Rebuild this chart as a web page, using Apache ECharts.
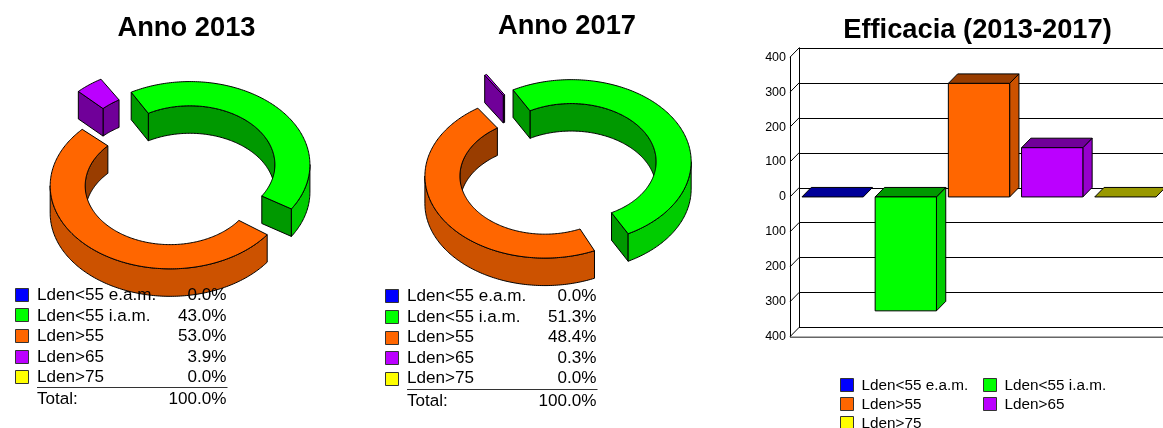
<!DOCTYPE html>
<html><head><meta charset="utf-8">
<style>html,body{margin:0;padding:0;background:#fff}#c{width:1163px;height:428px}</style>
<script src="https://cdn.jsdelivr.net/npm/echarts@6/dist/echarts.min.js"></script>
</head><body><div id="c"></div>
<script>
// ---- data ----
const categories = ['Lden<55 e.a.m.','Lden<55 i.a.m.','Lden>55','Lden>65','Lden>75'];
const shares2013 = [0.0, 43.0, 53.0, 3.9, 0.0];
const shares2017 = [0.0, 51.3, 48.4, 0.3, 0.0];
const efficacy   = [0, -326, 325, 141, 0];
const totalLabel = 'Total:';
const totalValue = '100.0%';
const yTicks = [-400,-300,-200,-100,0,100,200,300,400];
// ---- styles ----
const FONT = '"Liberation Sans", Arial, sans-serif';
const baseColors = [[0,0,255],[0,255,0],[255,102,0],[187,0,255],[255,255,0]];
const shade = (c,f)=>'rgb('+c.map(v=>Math.round(v*f)).join(',')+')';
const PIE = {R:120, r:85, depth:27.5, start:-31, trim:0.011};
const pie2013 = {cx:179.4, cy:174.6, k:0.692, explode:[14,14.5,14.5,29,14], nudge:[[0,0],[0,0],[0,0],[1.5,-1.5],[0,0]]};
const pie2017 = {cx:558, cy:168.8, k:0.683, explode:[15,15,15,26,15], nudge:[[0,0],[0,0],[0,0],[4,-2],[0,0]]};

const rad = d=>d*Math.PI/180;
function ptOn(c,radius,a,dz,k){
  return [c[0]+radius*Math.sin(rad(a)), c[1]-radius*k*Math.cos(rad(a))+(dz||0)];
}
function arcPts(c,radius,a,b,dz,k){
  const n=Math.max(2,Math.ceil(Math.abs(b-a)));
  const out=[];
  for(let i=0;i<=n;i++) out.push(ptOn(c,radius,a+(b-a)*i/n,dz,k));
  return out;
}
// parts of [a,b] where the clock angle lies in the lower half (lower=true) or upper half
function visibleRanges(a,b,lower){
  const res=[];
  for(let k=-2;k<=2;k++){
    const lo=(lower?90:-90)+360*k, hi=lo+180;
    const s=Math.max(a,lo), e=Math.min(b,hi);
    if(e>s) res.push([s,e]);
  }
  return res;
}
function poly(points,fill){
  return {type:'polygon',shape:{points},style:{fill,stroke:'#000',lineWidth:1,lineJoin:'round'}};
}
function wall(c,radius,a,b,fill,k){
  const top=arcPts(c,radius,a,b,0,k), bot=arcPts(c,radius,b,a,PIE.depth,k);
  return poly(top.concat(bot),fill);
}
function pieSeries(values,cfg){
  const total=values.reduce((s,v)=>s+v,0), k=cfg.k;
  return {
    type:'custom',coordinateSystem:'none',silent:true,
    data:values.map((v,i)=>[v,i]),
    renderItem(params,api){
      const v=api.value(0), i=api.value(1);
      if(v<=0) return null;
      let before=0; for(let j=0;j<i;j++) before+=values[j];
      const sweep=v/total*360;
      const a0=PIE.start+before/total*360, m=a0+sweep/2;
      const a=a0+sweep*PIE.trim, b=a0+sweep-sweep*PIE.trim;
      const e=cfg.explode[i];
      const c=[cfg.cx+e*Math.sin(rad(m))+cfg.nudge[i][0], cfg.cy-e*Math.cos(rad(m))+cfg.nudge[i][1]];
      const col=baseColors[i], kids=[];
      visibleRanges(a,b,false).forEach(q=>kids.push(wall(c,PIE.r,q[0],q[1],shade(col,0.6),k)));
      const radial=ang=>{
        const o=ptOn(c,PIE.R,ang,0,k), n=ptOn(c,PIE.r,ang,0,k);
        return poly([o,n,[n[0],n[1]+PIE.depth],[o[0],o[1]+PIE.depth]],shade(col,0.6));
      };
      if(-Math.sin(rad(a))>0) kids.push(radial(a));
      if(Math.sin(rad(b))>0) kids.push(radial(b));
      visibleRanges(a,b,true).forEach(q=>kids.push(wall(c,PIE.R,q[0],q[1],shade(col,0.8),k)));
      kids.push(poly(arcPts(c,PIE.R,a,b,0,k).concat(arcPts(c,PIE.r,b,a,0,k)),shade(col,1)));
      return {type:'group',children:kids};
    }
  };
}

// ---- legends (real text, read from the arrays) ----
const gfx=[];
function text(t,x,y,size,align){
  gfx.push({type:'text',x,y,z:50,style:{text:t,font:size+'px '+FONT,fill:'#000',textAlign:align||'left',textVerticalAlign:'middle'}});
}
function swatch(i,x,y,s){
  gfx.push({type:'rect',z:50,shape:{x:x+.5,y:y+.5,width:s,height:s},style:{fill:shade(baseColors[i],1),stroke:'#333',lineWidth:1}});
}
function pieLegend(values,o){
  values.forEach((v,i)=>{
    const top=o.y+i*o.step;
    swatch(i,o.sx,Math.round(top),13);
    text(categories[i],o.tx,top+o.to,17.1);
    text(v.toFixed(1)+'%',o.vx,top+o.to,17.1,'right');
  });
  gfx.push({type:'line',z:50,shape:{x1:o.tx,y1:o.ly+.5,x2:o.vx+1,y2:o.ly+.5},style:{stroke:'#333',lineWidth:1}});
  text(totalLabel,o.tx,o.ly+12,17.1);
  text(totalValue,o.vx,o.ly+12,17.1,'right');
}
pieLegend(shares2013,{sx:15,y:287.7,step:20.6,tx:37,vx:226.5,ly:387,to:7.5});
pieLegend(shares2017,{sx:385,y:289.3,step:20.6,tx:407,vx:596.5,ly:389,to:7});
[[0,840,378],[1,983,378],[2,840,397],[3,983,397],[4,840,416]].forEach(p=>{
  swatch(p[0],p[1],p[2],13);
  text(categories[p[0]],p[1]+21.5,p[2]+7.5,15.3);
});

// ---- 3D bars ----
const DX=9.3, DY=9.5, WALL_SHIFT=6;
const barSeries={
  type:'custom',xAxisIndex:0,yAxisIndex:0,silent:true,z:5,
  data:efficacy.map((v,i)=>[i,v]),
  renderItem(params,api){
    const i=api.value(0), v=api.value(1);
    const base=api.coord([i,0]), end=api.coord([i,v]);
    const w=api.size([1,0])[0]*0.8375;
    const x0=base[0]-w/2, x1=base[0]+w/2;
    const yTop=Math.min(base[1],end[1]), yBot=Math.max(base[1],end[1]);
    const col=baseColors[i], kids=[];
    if(yBot>yTop+.5){
      kids.push(poly([[x1,yTop],[x1+DX,yTop-DY],[x1+DX,yBot-DY],[x1,yBot]],shade(col,0.8)));
    }
    kids.push(poly([[x0,yTop],[x0+DX,yTop-DY],[x1+DX,yTop-DY],[x1,yTop]],shade(col,0.6)));
    if(yBot>yTop+.5){
      kids.push({type:'rect',shape:{x:x0,y:yTop,width:w,height:yBot-yTop},style:{fill:shade(col,1),stroke:'#000',lineWidth:1}});
    }
    return {type:'group',children:kids};
  }
};
const frameSeries={
  type:'custom',xAxisIndex:0,yAxisIndex:0,silent:true,z:3,
  data:yTicks.map(v=>[0,v]),
  renderItem(params,api){
    const v=api.value(1), y=api.coord([0,v])[1], cs=params.coordSys;
    const x=cs.x-WALL_SHIFT, kids=[
      {type:'line',shape:{x1:x,y1:y,x2:x+DX,y2:y-DY},style:{stroke:'#000',lineWidth:1}}
    ];
    if(v===yTicks[0]) kids.push({type:'line',shape:{x1:x,y1:y+.5,x2:x+400,y2:y+.5},style:{stroke:'#666',lineWidth:1.5}});
    return {type:'group',children:kids};
  }
};

const chart=echarts.init(document.getElementById('c'),null,{renderer:'canvas'});
const titleStyle={fontFamily:FONT,fontSize:27.3,fontWeight:'bold',color:'#000'};
chart.setOption({
  animation:false,backgroundColor:'#fff',
  title:[
    {text:'Anno 2013',left:181.5,top:9.5,textAlign:'center',textStyle:titleStyle},
    {text:'Anno 2017',left:562,top:7.5,textAlign:'center',textStyle:titleStyle},
    {text:'Efficacia (2013-2017)',left:972.5,top:11.5,textAlign:'center',textStyle:titleStyle}
  ],
  grid:[
    {left:796,top:57.2,width:366,height:279.5,show:false},
    {left:799,top:48,width:400,height:279.5,show:false}
  ],
  xAxis:[
    {gridIndex:0,type:'category',data:categories,show:false},
    {gridIndex:1,type:'value',show:false,min:0,max:1}
  ],
  yAxis:[
    {gridIndex:0,type:'value',min:-400,max:400,interval:100,offset:WALL_SHIFT,
     axisLine:{show:true,onZero:false,lineStyle:{color:'#000',width:1}},axisTick:{show:false},splitLine:{show:false},
     axisLabel:{margin:4,color:'#000',fontFamily:FONT,fontSize:12.5,formatter:v=>String(Math.abs(v))}},
    {gridIndex:1,type:'value',min:-400,max:400,interval:100,
     axisLine:{show:true,onZero:false,lineStyle:{color:'#000',width:1}},axisTick:{show:false},axisLabel:{show:false},
     splitLine:{show:true,lineStyle:{color:'#000',width:1}}}
  ],
  graphic:{elements:gfx},
  series:[pieSeries(shares2013,pie2013),pieSeries(shares2017,pie2017),frameSeries,barSeries]
});
</script></body></html>
